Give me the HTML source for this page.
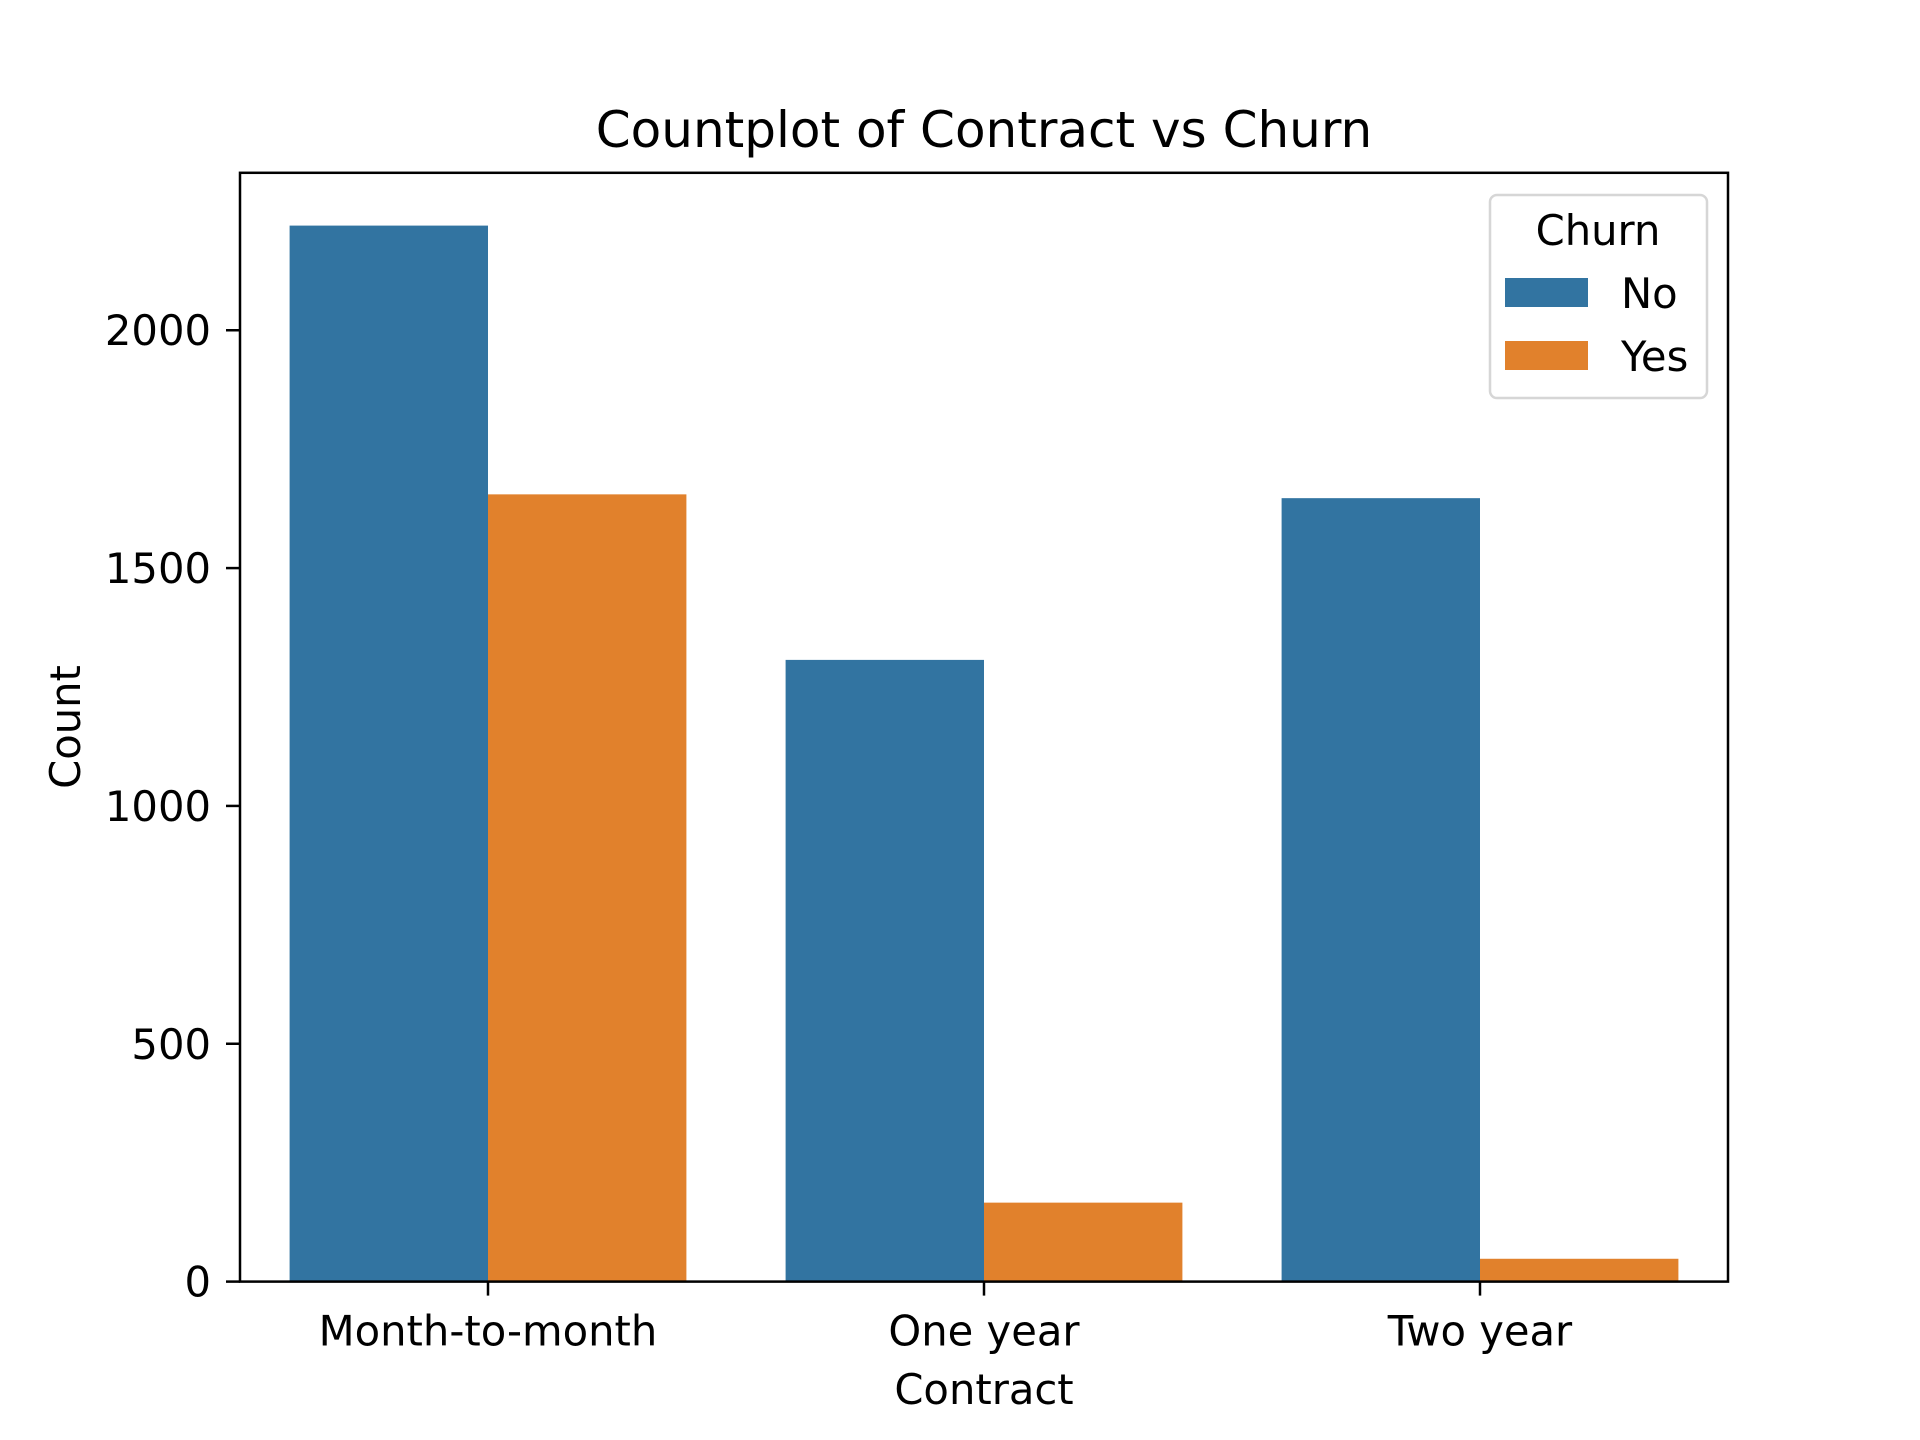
<!DOCTYPE html>
<html><head><meta charset="utf-8"><style>
html,body{margin:0;padding:0;background:#fff;}
svg{display:block;font-family:"DejaVu Sans","Liberation Sans",sans-serif;}
</style></head><body>
<svg id="chart" width="1920" height="1440" viewBox="0 0 1920 1440" xmlns="http://www.w3.org/2000/svg">
<rect width="1920" height="1440" fill="#fff"/>
<text x="984" y="147" font-size="50" text-anchor="middle">Countplot of Contract vs Churn</text>
<g id="bars"></g>
<g id="yticks"></g>
<g id="xticks"></g>
<rect x="240" y="172.8" width="1488" height="1108.8" fill="none" stroke="#000" stroke-width="2.5"/>
<text x="984" y="1404" font-size="41.7" text-anchor="middle">Contract</text>
<text transform="translate(80,727) rotate(-90)" font-size="41.7" text-anchor="middle">Count</text>
<g>
<rect x="1490" y="195" width="217" height="203" rx="7" fill="#fff" fill-opacity="0.8" stroke="#d6d6d6" stroke-width="2.5"/>
<text x="1598" y="245" font-size="41.7" text-anchor="middle">Churn</text>
<rect x="1505" y="278" width="83" height="29" fill="#3274a1"/>
<text x="1621" y="308" font-size="41.7">No</text>
<rect x="1505" y="341" width="83" height="29" fill="#e1812c"/>
<text x="1621" y="371" font-size="41.7">Yes</text>
</g>
</svg>
<script>
const categories = ["Month-to-month", "One year", "Two year"];
const seriesNo = [2220, 1307, 1647];
const seriesYes = [1655, 166, 48];
const yTickValues = [0, 500, 1000, 1500, 2000];
const NS = "http://www.w3.org/2000/svg";
const L = 240, R = 1728, T = 172.8, B = 1281.6;
const yMax = Math.max(...seriesNo, ...seriesYes) * 1.05;
function y(v){ return B - (v / yMax) * (B - T); }
function x(i){ return L + (i + 0.5) / categories.length * (R - L); }
const catW = (R - L) / categories.length;
const bars = document.getElementById('bars');
function mk(tag, attrs, parent){ const e = document.createElementNS(NS, tag); for (const k in attrs) e.setAttribute(k, attrs[k]); parent.appendChild(e); return e; }
categories.forEach((c, i) => {
  const bw = catW * 0.4;
  const b1 = mk('rect', {x: x(i) - bw, y: y(seriesNo[i]), width: bw, height: B - y(seriesNo[i]), fill: '#3274a1'}, bars);
  
  
  const b2 = mk('rect', {x: x(i), y: y(seriesYes[i]), width: bw, height: B - y(seriesYes[i]), fill: '#e1812c'}, bars);
  
  
  const xt = document.getElementById('xticks');
  mk('line', {x1: x(i), x2: x(i), y1: B, y2: B + 14, stroke: '#000', 'stroke-width': 2.5}, xt);
  const t = mk('text', {x: x(i), y: B + 64, 'font-size': 41.7, 'text-anchor': 'middle'}, xt);
  t.textContent = c;
  
  
});
const yt = document.getElementById('yticks');
yTickValues.forEach(v => {
  mk('line', {x1: L - 14, x2: L, y1: y(v), y2: y(v), stroke: '#000', 'stroke-width': 2.5}, yt);
  const t = mk('text', {x: L - 29, y: y(v) + 15, 'font-size': 41.7, 'text-anchor': 'end'}, yt);
  t.textContent = v;
  
  
});
</script>
</body></html>
